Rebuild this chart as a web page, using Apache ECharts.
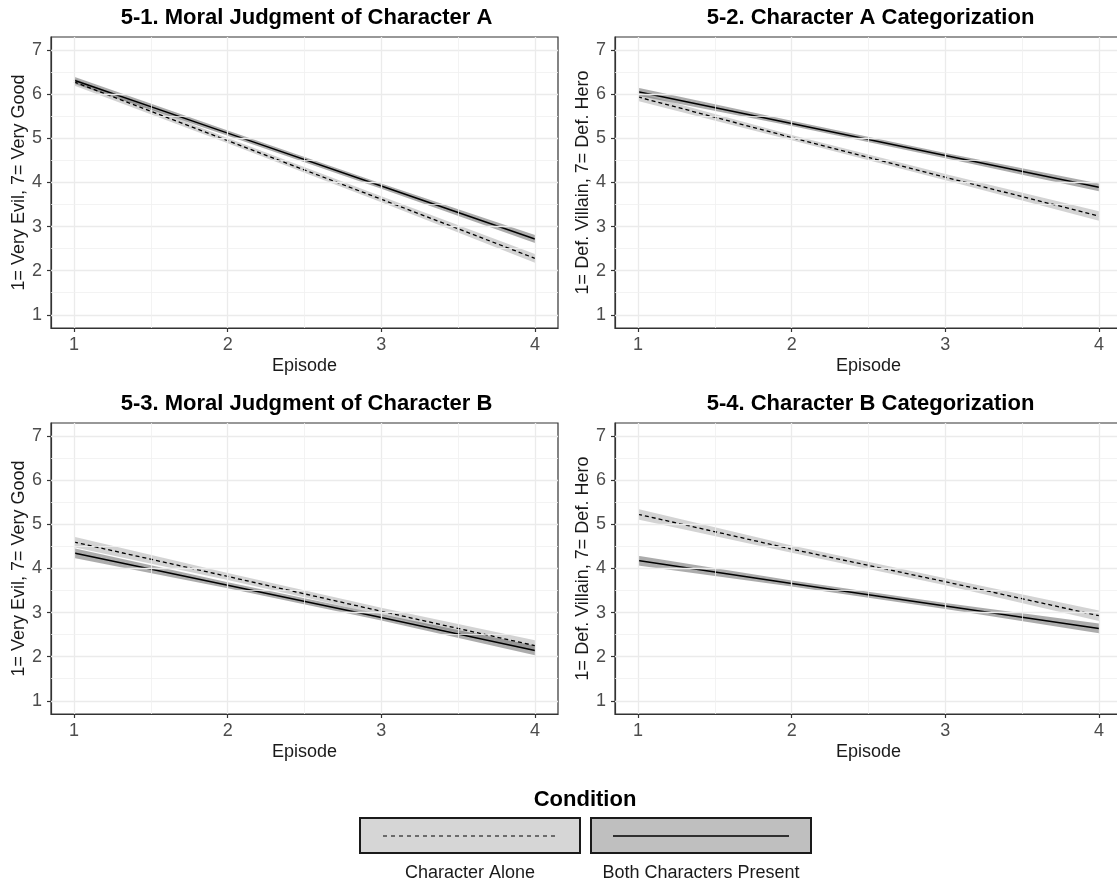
<!DOCTYPE html>
<html>
<head>
<meta charset="utf-8">
<script src="https://cdn.jsdelivr.net/npm/echarts@6/dist/echarts.min.js"></script>
<style>
  html, body { margin: 0; padding: 0; background: #fff; }
  #chart { width: 1117px; height: 884px; }
</style>
</head>
<body>
<div id="chart"></div>
<script>
// x = episode, y = rating (1..7)
var episodes = [1, 2, 3, 4]
var xTicks = [1, 2, 3, 4]
var yTicks = [1, 2, 3, 4, 5, 6, 7]
var xMinor = [1.5, 2.5, 3.5]
var yMinor = [1.5, 2.5, 3.5, 4.5, 5.5, 6.5]

var titles = [
  '5-1. Moral Judgment of Character A',
  '5-2. Character A Categorization',
  '5-3. Moral Judgment of Character B',
  '5-4. Character B Categorization'
]
var yNames = [
  '1= Very Evil, 7= Very Good',
  '1= Def. Villain, 7= Def. Hero',
  '1= Very Evil, 7= Very Good',
  '1= Def. Villain, 7= Def. Hero'
]
var conditions = ['Character Alone', 'Both Characters Present']

// 5-1
var alone1 = [6.28, 4.95, 3.62, 2.28]
var alone1Lo = [6.20, 4.89, 3.55, 2.18]
var alone1Hi = [6.36, 5.01, 3.69, 2.38]
var both1 = [6.32, 5.12, 3.92, 2.72]
var both1Lo = [6.24, 5.06, 3.86, 2.63]
var both1Hi = [6.40, 5.18, 3.98, 2.81]
// 5-2
var alone2 = [5.94, 5.02, 4.12, 3.24]
var alone2Lo = [5.85, 4.96, 4.05, 3.13]
var alone2Hi = [6.03, 5.08, 4.19, 3.35]
var both2 = [6.06, 5.34, 4.61, 3.89]
var both2Lo = [5.97, 5.28, 4.55, 3.80]
var both2Hi = [6.15, 5.40, 4.67, 3.98]
// 5-3
var alone3 = [4.60, 3.82, 3.03, 2.25]
var alone3Lo = [4.48, 3.74, 2.95, 2.13]
var alone3Hi = [4.72, 3.90, 3.11, 2.37]
var both3 = [4.35, 3.62, 2.89, 2.14]
var both3Lo = [4.24, 3.55, 2.82, 2.03]
var both3Hi = [4.46, 3.69, 2.96, 2.25]
// 5-4
var alone4 = [5.23, 4.44, 3.70, 2.93]
var alone4Lo = [5.11, 4.36, 3.62, 2.81]
var alone4Hi = [5.35, 4.52, 3.78, 3.05]
var both4 = [4.18, 3.66, 3.15, 2.64]
var both4Lo = [4.07, 3.59, 3.08, 2.53]
var both4Hi = [4.29, 3.73, 3.22, 2.75]

var panels = [
  { alone: alone1, aloneLo: alone1Lo, aloneHi: alone1Hi, both: both1, bothLo: both1Lo, bothHi: both1Hi },
  { alone: alone2, aloneLo: alone2Lo, aloneHi: alone2Hi, both: both2, bothLo: both2Lo, bothHi: both2Hi },
  { alone: alone3, aloneLo: alone3Lo, aloneHi: alone3Hi, both: both3, bothLo: both3Lo, bothHi: both3Hi },
  { alone: alone4, aloneLo: alone4Lo, aloneHi: alone4Hi, both: both4, bothLo: both4Lo, bothHi: both4Hi }
]

var FONT = '"Liberation Sans", Arial, sans-serif'
var ALONE_FILL = 'rgba(140, 140, 140, 0.38)'
var BOTH_FILL = 'rgba(90, 90, 90, 0.5)'

// panel boxes (left, top)
var boxes = [
  { left: 51, top: 37 },
  { left: 615, top: 37 },
  { left: 51, top: 423 },
  { left: 615, top: 423 }
]
var boxW = 507
var boxH = 291

function bandSeries (idx, lo, hi, color) {
  return {
    type: 'custom',
    xAxisIndex: idx,
    yAxisIndex: idx,
    z: 2,
    silent: true,
    animation: false,
    data: episodes.map(function (x, i) { return [x, lo[i], hi[i]] }),
    encode: { x: 0, y: [1, 2] },
    renderItem: function (params, api) {
      if (params.dataIndex !== 0) return
      var top = []
      var bottom = []
      for (var i = 0; i < episodes.length; i++) {
        top.push(api.coord([episodes[i], hi[i]]))
        bottom.unshift(api.coord([episodes[i], lo[i]]))
      }
      return {
        type: 'polygon',
        shape: { points: top.concat(bottom) },
        style: { fill: color }
      }
    }
  }
}

function lineSeries (idx, values, dashed) {
  return {
    type: 'line',
    xAxisIndex: idx,
    yAxisIndex: idx,
    z: 3,
    silent: true,
    animation: false,
    symbol: 'none',
    data: episodes.map(function (x, i) { return [x, values[i]] }),
    lineStyle: { color: '#000', width: dashed ? 1.3 : 1.5, type: dashed ? [4, 3] : 'solid' }
  }
}

function gridLineSeries (idx) {
  var lines = []
  xTicks.forEach(function (v) { lines.push({ xAxis: v, lineStyle: { color: '#EBEBEB', width: 1.3, type: 'solid' } }) })
  yTicks.forEach(function (v) { lines.push({ yAxis: v, lineStyle: { color: '#EBEBEB', width: 1.3, type: 'solid' } }) })
  xMinor.forEach(function (v) { lines.push({ xAxis: v, lineStyle: { color: '#F0F0F0', width: 0.8, type: 'solid' } }) })
  yMinor.forEach(function (v) { lines.push({ yAxis: v, lineStyle: { color: '#F0F0F0', width: 0.8, type: 'solid' } }) })
  return {
    type: 'line',
    xAxisIndex: idx,
    yAxisIndex: idx,
    z: 1,
    silent: true,
    animation: false,
    data: [],
    markLine: { silent: true, symbol: 'none', animation: false, label: { show: false }, data: lines }
  }
}

var grids = []
var xAxes = []
var yAxes = []
var series = []
var titleList = []

boxes.forEach(function (b, idx) {
  grids.push({
    left: b.left, top: b.top, width: boxW, height: boxH,
    show: true, borderColor: '#333', borderWidth: 1.2, backgroundColor: 'transparent',
    containLabel: false, outerBoundsMode: 'none'
  })
  xAxes.push({
    gridIndex: idx, type: 'value', min: 0.85, max: 4.15,
    name: 'Episode', nameLocation: 'middle', nameGap: 29,
    nameTextStyle: { fontSize: 18, color: '#1a1a1a', fontFamily: FONT },
    axisLine: { show: true, onZero: false, lineStyle: { color: '#333', width: 1.2 } },
    axisTick: { show: true, length: 4, customValues: xTicks, lineStyle: { color: '#333', width: 1.2 } },
    axisLabel: { customValues: xTicks, margin: 8, fontSize: 18, color: '#4D4D4D', fontFamily: FONT },
    splitLine: { show: false }
  })
  yAxes.push({
    gridIndex: idx, type: 'value', min: 0.7, max: 7.3,
    name: yNames[idx], nameLocation: 'middle', nameGap: 21, nameRotate: 90,
    nameTextStyle: { fontSize: 18, color: '#1a1a1a', fontFamily: FONT },
    axisLine: { show: true, onZero: false, lineStyle: { color: '#333', width: 1.2 } },
    axisTick: { show: true, length: 4, customValues: yTicks, lineStyle: { color: '#333', width: 1.2 } },
    axisLabel: { customValues: yTicks, margin: 9, fontSize: 18, color: '#4D4D4D', fontFamily: FONT },
    splitLine: { show: false }
  })
  titleList.push({
    text: titles[idx],
    left: b.left + boxW / 2 - (idx % 2 === 1 ? 3 : 3),
    top: b.top - 35,
    textAlign: 'center',
    textStyle: { fontSize: 22, fontWeight: 'bold', color: '#000', fontFamily: FONT }
  })
  var p = panels[idx]
  series.push(gridLineSeries(idx))
  series.push(bandSeries(idx, p.aloneLo, p.aloneHi, ALONE_FILL))
  series.push(bandSeries(idx, p.bothLo, p.bothHi, BOTH_FILL))
  series.push(lineSeries(idx, p.alone, true))
  series.push(lineSeries(idx, p.both, false))
})

// legend drawn by hand, ggplot style
var legendGraphics = [
  { type: 'text', x: 585, y: 800, style: { text: 'Condition', fill: '#000', font: 'bold 22px ' + FONT, align: 'center', verticalAlign: 'middle' } },
  { type: 'rect', shape: { x: 360, y: 818, width: 220, height: 35 }, style: { fill: '#D6D6D6', stroke: '#1a1a1a', lineWidth: 2 } },
  { type: 'line', shape: { x1: 383, y1: 836, x2: 557, y2: 836 }, style: { stroke: '#000', lineWidth: 1.2, lineDash: [4, 4] } },
  { type: 'rect', shape: { x: 591, y: 818, width: 220, height: 35 }, style: { fill: '#BFBFBF', stroke: '#1a1a1a', lineWidth: 2 } },
  { type: 'line', shape: { x1: 613, y1: 836, x2: 789, y2: 836 }, style: { stroke: '#000', lineWidth: 1.3 } },
  { type: 'text', x: 470, y: 873, style: { text: conditions[0], fill: '#1a1a1a', font: '18px ' + FONT, align: 'center', verticalAlign: 'middle' } },
  { type: 'text', x: 701, y: 873, style: { text: conditions[1], fill: '#1a1a1a', font: '18px ' + FONT, align: 'center', verticalAlign: 'middle' } }
]

var chart = echarts.init(document.getElementById('chart'))
chart.setOption({
  animation: false,
  backgroundColor: '#fff',
  textStyle: { fontFamily: FONT },
  title: titleList,
  grid: grids,
  xAxis: xAxes,
  yAxis: yAxes,
  series: series,
  graphic: legendGraphics
})
window.addEventListener('resize', function () {
  chart.resize()
})
</script>
</body>
</html>
